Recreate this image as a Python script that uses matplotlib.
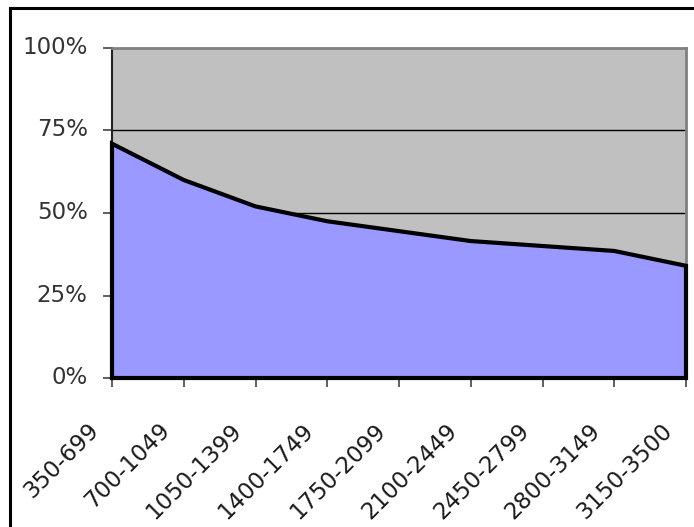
import matplotlib
matplotlib.use("Agg")
import matplotlib.pyplot as plt
from matplotlib.lines import Line2D
from matplotlib.transforms import ScaledTranslation
import numpy as np

categories = ["350-699", "700-1049", "1050-1399", "1400-1749", "1750-2099",
              "2100-2449", "2450-2799", "2800-3149", "3150-3500"]
values = [71, 60, 52, 47.5, 44.5, 41.5, 40, 38.5, 34]
yticks = [0, 25, 50, 75, 100]
ytick_labels = ["0%", "25%", "50%", "75%", "100%"]

plt.rcParams['font.family'] = ['DejaVu Sans']

fig = plt.figure(figsize=(6.94, 5.27), dpi=100)
fig.patch.set_facecolor("white")
ax = fig.add_axes([112/694, 1-378/527, (686-112)/694, (378-48)/527])
ax.set_facecolor("#C0C0C0")

x = np.arange(len(categories))
ax.fill_between(x, 0, values, facecolor="#9999FF", edgecolor="none", zorder=2)
# black outline around the area
ox = np.concatenate([[x[0]], x, [x[-1]], [x[0]]])
oy = np.concatenate([[0], values, [0], [0]])
ax.plot(ox, oy, color="black", lw=3.0, solid_joinstyle="miter", zorder=3, clip_on=False)

for g in [25, 50, 75]:
    ax.axhline(g, color="black", lw=1.0, zorder=1)

ax.set_xlim(x[0], x[-1])
ax.set_ylim(0, 100)
ax.set_yticks(yticks)
ax.set_yticklabels(ytick_labels, fontsize=16.5, color="#333333")
ax.set_xticks(x)
ax.set_xticklabels(categories, rotation=45, ha="right", va="center",
                   rotation_mode="anchor", fontsize=16.5, color="#1a1a1a")
ax.tick_params(axis="both", direction="out", length=6.5, width=1.2, color="#444444")
ax.tick_params(axis="x", pad=0)
ax.tick_params(axis="y", pad=11)

offset = ScaledTranslation(-0.17, -0.40, fig.dpi_scale_trans)
for lab in ax.get_xticklabels():
    lab.set_transform(lab.get_transform() + offset)
yoff = ScaledTranslation(0, 0.03, fig.dpi_scale_trans)
for lab in ax.get_yticklabels():
    lab.set_transform(lab.get_transform() + yoff)

for s in ["top", "right"]:
    ax.spines[s].set_color("#808080")
    ax.spines[s].set_linewidth(2)
for s in ["left", "bottom"]:
    ax.spines[s].set_color("#222222")
    ax.spines[s].set_linewidth(1.5)

# outer chart frame (top and left visible)
fig.add_artist(Line2D([9.5/694, 1.0], [1-7.5/527, 1-7.5/527], color="black", lw=2.2,
                      transform=fig.transFigure))
fig.add_artist(Line2D([9.5/694, 9.5/694], [0.0, 1-7.5/527], color="black", lw=2.2,
                      transform=fig.transFigure))

fig.savefig("out.png", dpi=100)
